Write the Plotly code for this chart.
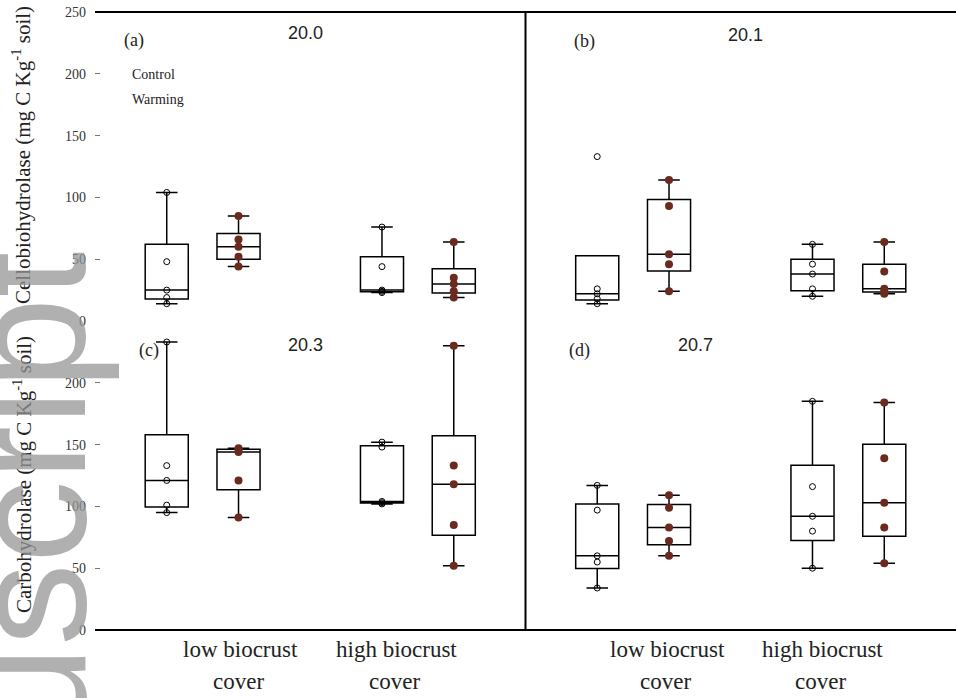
import plotly.graph_objects as go
from plotly.subplots import make_subplots

categories = ["low biocrust cover", "high biocrust cover"]
label_line1 = ["low biocrust", "high biocrust"]
label_line2 = ["cover", "cover"]
panel_tags = ["(a)", "(b)", "(c)", "(d)"]
years = ["20.0", "20.1", "20.3", "20.7"]
treatments = ["Control", "Warming"]
y_titles = ["Cellobiohydrolase (mg C Kg<sup>-1</sup> soil)",
            "Carbohydrolase (mg C Kg<sup>-1</sup> soil)"]
top_ticks = [0, 50, 100, 150, 200, 250]
bottom_ticks = [0, 50, 100, 150, 200]

# panel (a)
a_control_low = [104, 48, 25, 19, 14]
a_control_high = [76, 44, 25, 24, 23]
a_warming_low = [85, 66, 60, 52, 44]
a_warming_high = [64, 35, 30, 24, 19]
# panel (b)
b_control_low = [133, 26, 22, 18, 14]
b_control_high = [62, 46, 38, 26, 20]
b_warming_low = [114, 93, 54, 46, 24]
b_warming_high = [64, 40, 26, 24, 22]
# panel (c)
c_control_low = [233, 133, 121, 101, 95]
c_control_high = [152, 148, 104, 103, 102]
c_warming_low = [147, 146, 144, 121, 91]
c_warming_high = [230, 133, 118, 85, 52]
# panel (d)
d_control_low = [117, 97, 60, 55, 34]
d_control_high = [185, 116, 92, 80, 50]
d_warming_low = [109, 99, 83, 72, 60]
d_warming_high = [184, 139, 103, 83, 54]

panels = [
    (a_control_low, a_control_high, a_warming_low, a_warming_high),
    (b_control_low, b_control_high, b_warming_low, b_warming_high),
    (c_control_low, c_control_high, c_warming_low, c_warming_high),
    (d_control_low, d_control_high, d_warming_low, d_warming_high),
]

SERIF = "Liberation Serif"
SANS = "Liberation Sans"
WARM = "#6b2a1e"

fig = make_subplots(rows=2, cols=2, horizontal_spacing=0, vertical_spacing=0)

for i, (cl, ch, wl, wh) in enumerate(panels):
    r, c = i // 2 + 1, i % 2 + 1
    ctrl_x = [categories[0]] * len(cl) + [categories[1]] * len(ch)
    warm_x = [categories[0]] * len(wl) + [categories[1]] * len(wh)
    fig.add_trace(go.Box(
        x=ctrl_x, y=cl + ch, name=treatments[0], offsetgroup="ctrl",
        boxpoints="all", jitter=0, pointpos=0, whiskerwidth=0.5,
        line=dict(color="black", width=1.5), fillcolor="rgba(255,255,255,0)",
        marker=dict(symbol="circle-open", color="black", size=6, line=dict(width=1)),
        showlegend=False), row=r, col=c)
    fig.add_trace(go.Box(
        x=warm_x, y=wl + wh, name=treatments[1], offsetgroup="warm",
        boxpoints="all", jitter=0, pointpos=0, whiskerwidth=0.5,
        line=dict(color="black", width=1.5), fillcolor="rgba(255,255,255,0)",
        marker=dict(color=WARM, size=8),
        showlegend=False), row=r, col=c)

fig.update_layout(
    width=956, height=698,
    margin=dict(l=95, r=0, t=12, b=68),
    paper_bgcolor="white", plot_bgcolor="white",
    boxmode="group", boxgap=0.333, boxgroupgap=0.4,
    font=dict(family=SERIF, color="black"),
)

for r in (1, 2):
    for c in (1, 2):
        fig.update_xaxes(row=r, col=c, type="category", range=[-0.5, 1.5],
                         showgrid=False, zeroline=False, showline=False, ticks="",
                         showticklabels=False)
        fig.update_yaxes(row=r, col=c, range=[0, 250], showgrid=False, zeroline=False,
                         showline=False,
                         tickvals=top_ticks if r == 1 else bottom_ticks,
                         ticks="inside" if c == 1 else "", ticklen=5, tickcolor="#777",
                         showticklabels=(c == 1), ticklabelstandoff=8,
                         tickfont=dict(family=SERIF, size=14, color="#333"))

# frame lines
fig.add_shape(type="line", xref="paper", yref="paper", x0=0, x1=1, y0=1, y1=1,
              line=dict(color="black", width=2))
fig.add_shape(type="line", xref="paper", yref="paper", x0=0, x1=1, y0=0, y1=0,
              line=dict(color="black", width=2))
fig.add_shape(type="line", xref="paper", yref="paper", x0=0.5, x1=0.5, y0=0, y1=1,
              line=dict(color="black", width=2))


def px_x(px):
    return (px - 95) / 861


def px_y(py):
    return 1 - (py - 12) / 618


# panel labels and years
tag_px = [(122, 40), (572, 42), (137, 350), (567, 350)]
year_px = [(305, 33), (745, 35), (305, 345), (695, 345)]
for i in range(4):
    fig.add_annotation(xref="paper", yref="paper", x=px_x(tag_px[i][0]), y=px_y(tag_px[i][1]),
                       text=panel_tags[i], showarrow=False, xanchor="left", yanchor="middle",
                       font=dict(family=SERIF, size=18, color="#222"))
    fig.add_annotation(xref="paper", yref="paper", x=px_x(year_px[i][0]), y=px_y(year_px[i][1]),
                       text=years[i], showarrow=False, xanchor="center", yanchor="middle",
                       font=dict(family=SANS, size=18, color="#222"))

# x category labels (drawn slightly toward each other, as in the reference)
xlab_px = [240, 396, 667, 822]
for j, xp in enumerate(xlab_px):
    k = j % 2
    fig.add_annotation(xref="paper", yref="paper", x=px_x(xp), y=px_y(649),
                       text=label_line1[k], showarrow=False, xanchor="center", yanchor="middle",
                       font=dict(family=SERIF, size=23, color="#222"))
    fig.add_annotation(xref="paper", yref="paper", x=px_x(xp - 2), y=px_y(681),
                       text=label_line2[k], showarrow=False, xanchor="center", yanchor="middle",
                       font=dict(family=SERIF, size=23, color="#222"))

# legend text
fig.add_annotation(xref="paper", yref="paper", x=px_x(130), y=px_y(75),
                   text=treatments[0], showarrow=False, xanchor="left", yanchor="middle",
                   font=dict(family=SERIF, size=14, color="#222"))
fig.add_annotation(xref="paper", yref="paper", x=px_x(130), y=px_y(100),
                   text=treatments[1], showarrow=False, xanchor="left", yanchor="middle",
                   font=dict(family=SERIF, size=14, color="#222"))

# y titles
fig.add_annotation(xref="paper", yref="paper", x=px_x(22), y=px_y(155),
                   text=y_titles[0], textangle=-90, showarrow=False,
                   xanchor="center", yanchor="middle",
                   font=dict(family=SERIF, size=21, color="#222"))
fig.add_annotation(xref="paper", yref="paper", x=px_x(22), y=px_y(475),
                   text=y_titles[1], textangle=-90, showarrow=False,
                   xanchor="center", yanchor="middle",
                   font=dict(family=SERIF, size=21, color="#222"))

# watermark
fig.add_annotation(xref="paper", yref="paper", x=px_x(-67), y=px_y(250),
                   text="Manuscript", textangle=-90, showarrow=False,
                   xanchor="left", yanchor="top",
                   font=dict(family=SANS, size=165, color="rgba(150,150,150,0.75)"))

fig.write_html("out.html")
